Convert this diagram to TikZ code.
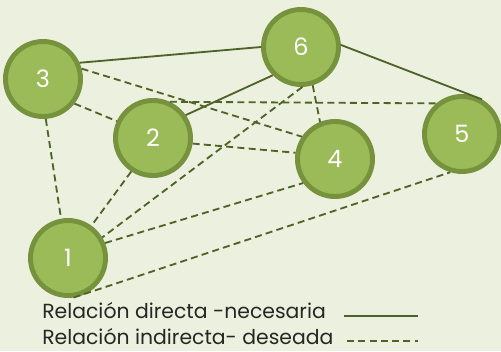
\documentclass[tikz,border=0pt]{standalone}
\usepackage{fontspec}
\setmainfont{Poppins}
\definecolor{fondo}{HTML}{EBF1DE}
\definecolor{relleno}{HTML}{9BBB59}
\definecolor{borde}{HTML}{76923C}
\definecolor{linea}{HTML}{4F6228}
\definecolor{texto}{HTML}{262626}
\tikzset{
  nodo/.style={circle, fill=relleno, draw=borde, line width=3.5pt, minimum size=1.875cm, inner sep=0pt, text=white, font=\fontsize{17}{20}\selectfont},
  directa/.style={draw=linea, line width=1.3pt},
  indirecta/.style={draw=linea, line width=1.3pt, dash pattern=on 5pt off 3pt},
  leyenda/.style={anchor=base west, inner sep=0pt, text=texto, font=\fontsize{14.5}{16}\selectfont}
}
\begin{document}
\begin{tikzpicture}[x=0.025cm,y=-0.025cm]
  \fill[fondo] (0,0) rectangle (501,351);
  \useasboundingbox (0,0) rectangle (501,351);

  \node[nodo] (3) at (43,79) {3};
  \node[nodo] (2) at (153,138) {2};
  \node[nodo] (6) at (301,47) {6};
  \node[nodo] (4) at (335,159) {4};
  \node[nodo] (5) at (462,134) {5};
  \node[nodo] (1) at (68,258) {1};

  % relaciones directas
  \draw[directa] (3.24) -- (6.180);
  \draw[directa] (2.35) -- (6.225);
  \draw[directa] (6.3) -- (5.60);

  % relaciones indirectas
  \draw[indirecta] (3.-38) -- (2.155);
  \draw[indirecta] (3.15) -- (4.146);
  \draw[indirecta] (3.-86) -- (1.100);
  \draw[indirecta] (2.65) -- (5.130);
  \draw[indirecta] (2.-8) -- (4.171);
  \draw[indirecta] (2.237) -- (1.54);
  \draw[indirecta] (6.-73) -- (4.112);
  \draw[indirecta] (6.-88) -- (1.31);
  \draw[indirecta] (1.22) -- (4.217);
  \draw[indirecta] (1.-82) -- (5.253);

  \node[leyenda] (L1) at (42,318) {Relación directa -necesaria};
  \node[leyenda] (L2) at (42,344) {Relación indirecta- deseada};
  \coordinate (d1) at (344,316);
  \coordinate (d2) at (418,316);
  \coordinate (i1) at (347,341);
  \coordinate (i2) at (418,341);
  \draw[directa] (d1) -- (d2);
  \draw[indirecta] (i1) -- (i2);
\end{tikzpicture}
\end{document}
